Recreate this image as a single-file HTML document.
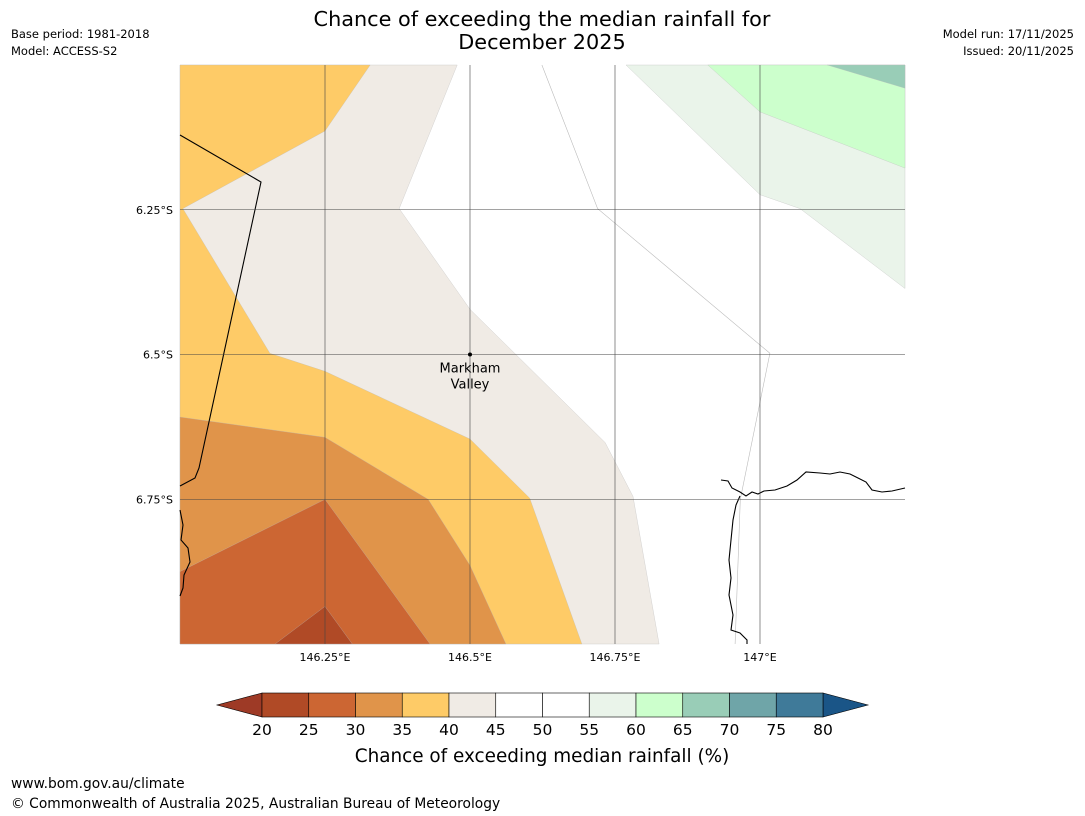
<!DOCTYPE html>
<html><head><meta charset="utf-8"><style>
body{margin:0;background:#fff;font-family:"DejaVu Sans","Liberation Sans",sans-serif;}
svg{display:block}
</style></head><body>
<svg id="c" width="1085" height="816" xmlns="http://www.w3.org/2000/svg">
<text x="542" y="26" text-anchor="middle" font-size="20.8">Chance of exceeding the median rainfall for</text>
<text x="542" y="49" text-anchor="middle" font-size="20.8">December 2025</text>
<text x="11" y="38" font-size="11.5">Base period: 1981-2018</text>
<text x="11" y="55" font-size="11.5">Model: ACCESS-S2</text>
<text x="1074" y="38" font-size="11.5" text-anchor="end">Model run: 17/11/2025</text>
<text x="1074" y="55" font-size="11.5" text-anchor="end">Issued: 20/11/2025</text>
<g id="map"></g>
<g id="cb"></g>
<text x="542" y="762" text-anchor="middle" font-size="18.4">Chance of exceeding median rainfall (%)</text>
<text x="11" y="788" font-size="13.8">www.bom.gov.au/climate</text>
<text x="11" y="808" font-size="13.8">© Commonwealth of Australia 2025, Australian Bureau of Meteorology</text>
</svg>
<script>
const NS="http://www.w3.org/2000/svg";
const lonTicks=[146.25,146.5,146.75,147];
const latTicks=[6.25,6.5,6.75];
const binEdges=[20,25,30,35,40,45,50,55,60,65,70,75,80];
const binColors=["#b04a26","#cc6633","#e0944a","#fecb67","#f0ebe5","#ffffff","#ffffff","#eaf4ea","#ccffcc","#99cdb7","#6fa5a8","#3f7a99"];
// contour polygons in [lon, latS]
const beigeZone=[[146,6],[146.478,6],[146.378,6.248],[146.5,6.422],[146.733,6.652],[146.781,6.745],[146.826,7],[146,7]];
const yellowZone=[[146,6],[146.328,6],[146.25,6.114],[146.005,6.248],[146.155,6.498],[146.25,6.529],[146.5,6.646],[146.603,6.748],[146.693,7],[146,7]];
const orangeZone=[[146,6.608],[146.25,6.643],[146.428,6.75],[146.5,6.864],[146.562,7],[146,7]];
const darkOrangeZone=[[146,6.875],[146.25,6.75],[146.431,7],[146,7]];
const darkestZone=[[146.164,7],[146.25,6.935],[146.297,7]];
const lightGreenZone=[[146.769,6],[147,6.224],[147.069,6.248],[147.25,6.386],[147.25,6]];
const greenZone=[[146.91,6],[147,6.081],[147.25,6.178],[147.25,6]];
const tealZone=[[147.116,6],[147.25,6.04],[147.25,6]];
const fiftyLine=[[146.624,6],[146.72,6.248],[147.017,6.498],[146.966,6.75],[146.957,7]];
const townLon=146.5, townLat=6.5;
const x0=180,x1=905,y0=65,y1=644;
const X=l=>x0+(l-146)*(x1-x0)/1.25;
const Y=l=>y0+(l-6)*(y1-y0)/1;
const map=document.getElementById('map');
function el(t,a,p){const e=document.createElementNS(NS,t);for(const k in a)e.setAttribute(k,a[k]);(p||map).appendChild(e);return e;}
const pts=a=>a.map(p=>X(p[0]).toFixed(1)+","+Y(p[1]).toFixed(1)).join(" ");
const zones=[[beigeZone,binColors[4],"zone-40-45"],[yellowZone,binColors[3],"zone-35-40"],[orangeZone,binColors[2],"zone-30-35"],[darkOrangeZone,binColors[1],"zone-25-30"],[darkestZone,binColors[0],"zone-20-25"],[lightGreenZone,binColors[7],"zone-55-60"],[greenZone,binColors[8],"zone-60-65"],[tealZone,binColors[9],"zone-65-70"]];
for(const z of zones){
 const e=el('polygon',{points:pts(z[0]),fill:z[1],stroke:"#bbb","stroke-width":0.3});
 
 
}
const fl=el('polyline',{points:pts(fiftyLine),fill:"none",stroke:"#bbb","stroke-width":0.6});


const b1=el('path',{d:"M180,135 L261,182 L199,468 L195,478 L180,486",fill:"none",stroke:"#000","stroke-width":1.1});


const b2=el('path',{d:"M180,510 L183,525 L181,540 L188,548 L190,562 L184,575 L183,588 L180,596",fill:"none",stroke:"#000","stroke-width":1.1});


const b3=el('path',{d:"M721,480 L728,481 L732,488 L740,492 L746,496 L752,492 L758,494 L764,491 L775,490 L787,486 L797,480 L806,472 L820,473 L830,474 L840,472 L850,474 L858,478 L866,482 L872,490 L882,492 L892,491 L905,488 M740,496 L736,505 L733,520 L731,540 L729,560 L731,578 L729,595 L733,615 L731,630 L740,633 L747,640 L747,644",fill:"none",stroke:"#000","stroke-width":1.1});


lonTicks.forEach(l=>{
 const g=el('line',{x1:X(l),x2:X(l),y1:y0,y2:y1,stroke:"#444","stroke-width":0.6});
 
 
 const t=el('text',{x:X(l),y:661,"font-size":11,"text-anchor":"middle"});t.textContent=l+"°E";
 
 
});
latTicks.forEach(l=>{
 const g=el('line',{x1:x0,x2:x1,y1:Y(l),y2:Y(l),stroke:"#444","stroke-width":0.6});
 
 
 const t=el('text',{x:173,y:Y(l)+4,"font-size":11,"text-anchor":"end"});t.textContent=l+"°S";
 
 
});
const d=el('circle',{cx:X(townLon),cy:Y(townLat),r:2,fill:"#000"});


const t1=el('text',{x:X(townLon),y:Y(townLat)+18,"font-size":13,"text-anchor":"middle"});t1.textContent="Markham";


const t2=el('text',{x:X(townLon),y:Y(townLat)+34,"font-size":13,"text-anchor":"middle"});t2.textContent="Valley";


const cb=document.getElementById('cb');
const cx0=262,cx1=823,cy0=693,cy1=717;
const CX=v=>cx0+(v-20)*(cx1-cx0)/60;
const lt=el('polygon',{points:`${cx0},${cy0} ${cx0},${cy1} 217,705`,fill:"#9e3a26",stroke:"#000","stroke-width":0.6},cb);


const rt=el('polygon',{points:`${cx1},${cy0} ${cx1},${cy1} 868,705`,fill:"#1a5587",stroke:"#000","stroke-width":0.6},cb);


for(let i=0;i<binColors.length;i++){
 const r=el('rect',{x:CX(binEdges[i]),y:cy0,width:CX(binEdges[i+1])-CX(binEdges[i]),height:cy1-cy0,fill:binColors[i],stroke:"#000","stroke-width":0.6},cb);
 
 
}
binEdges.forEach(v=>{
 const t=el('text',{x:CX(v),y:735,"font-size":15.5,"text-anchor":"middle"},cb);t.textContent=v;
 
 
});
</script>
</body></html>
